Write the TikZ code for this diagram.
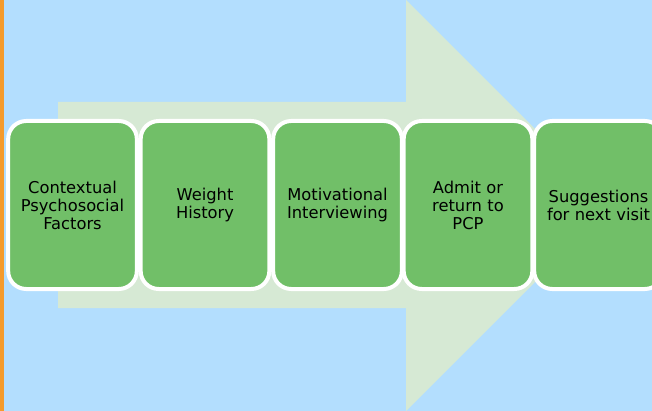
\documentclass[tikz,border=0pt]{standalone}
\usepackage{fontspec}
\setmainfont{DejaVu Sans}
\usepackage{tikz}

\definecolor{skyback}{HTML}{B3DEFE}
\definecolor{arrowgreen}{HTML}{D6E9D4}
\definecolor{boxgreen}{HTML}{71BF68}
\definecolor{edgeorange}{HTML}{F59B2C}

\tikzset{
    stage/.style={draw=white, line width=4pt, fill=boxgreen, rounded corners=18pt,
        minimum width=125pt, minimum height=168pt, text width=122pt, align=center,
        font=\fontsize{16.3pt}{18pt}\selectfont, text=black}
}

\begin{document}
\begin{tikzpicture}[x=1pt, y=-1pt]
            % background
            \fill[skyback] (0,0) rectangle (652,411);
            \fill[edgeorange] (0,0) rectangle (3.5,411);
            \useasboundingbox (0,0) rectangle (652,411);

            % big arrow
            \fill[arrowgreen] (58,102) -- (406,102) -- (406,0) -- (611.5,205.5)
                -- (406,411) -- (406,308) -- (58,308) -- cycle;

            % stages
            \node[stage] (context) at (72.5,205) {Contextual\\Psychosocial\\Factors};
            \node[stage] (weight) at (205,205) {Weight\\History};
            \node[stage] (motiv) at (337.5,205) {Motivational\\Interviewing};
            \node[stage] (admit) at (468,205) {Admit or\\return to\\PCP};
            \node[stage] (suggest) at (598.5,205) {Suggestions\\for next visit};
        \end{tikzpicture}
\end{document}
